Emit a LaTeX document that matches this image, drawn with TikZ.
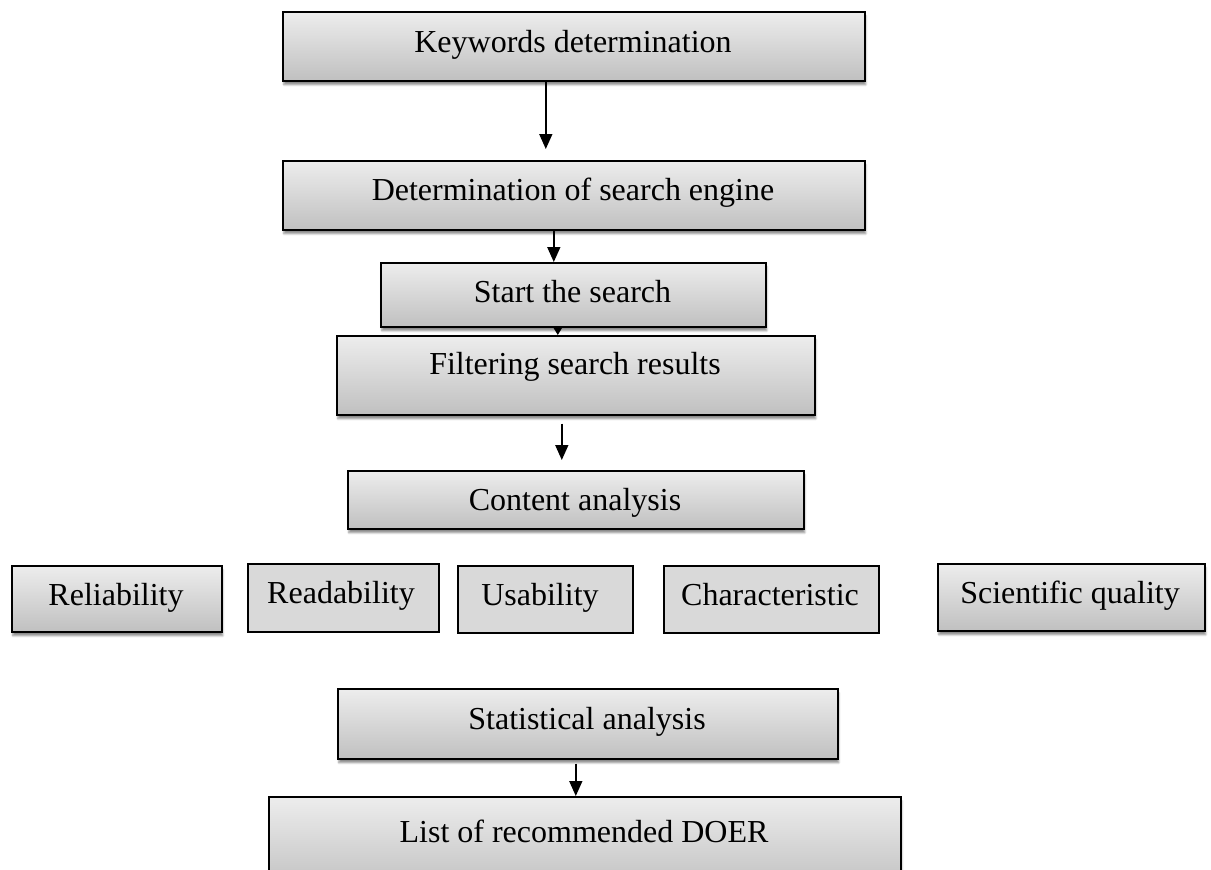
\documentclass[tikz,border=0pt]{standalone}
\usepackage{fontspec}
\setmainfont{Liberation Serif}
\usetikzlibrary{arrows.meta,shadows.blur}
\definecolor{boxtop}{HTML}{EDEDED}
\definecolor{boxbot}{HTML}{C0C0C0}
\definecolor{flatgray}{HTML}{D9D9D9}
\tikzset{
  shadedbox/.style={draw=black, line width=1.6pt, top color=boxtop, bottom color=boxbot,
    blur shadow={shadow xshift=1pt, shadow yshift=-4pt, shadow blur steps=6, shadow opacity=45},
    anchor=north west, inner sep=0pt},
  flatbox/.style={draw=black, line width=1.6pt, fill=flatgray, anchor=north west, inner sep=0pt},
  lbl/.style={anchor=base, inner sep=0pt, font=\fontsize{32}{38}\selectfont},
  flow/.style={line width=1.6pt, -{Triangle[width=13pt,length=15pt]}},
  smallflow/.style={line width=1.6pt, -{Triangle[width=8pt,length=7pt]}}
}
\begin{document}
\begin{tikzpicture}[x=1pt, y=-1pt]
\useasboundingbox (0,0) rectangle (1211,870);

% main chain of process boxes
\node[shadedbox, minimum width=582, minimum height=69] (kw) at (282,11) {};
\node[lbl] (kwt) at (573,52) {Keywords determination};

\node[shadedbox, minimum width=582, minimum height=69] (det) at (282,160) {};
\node[lbl] (dett) at (573,200) {Determination of search engine};

\node[shadedbox, minimum width=385, minimum height=64] (st) at (380,262) {};
\node[lbl] (stt) at (572.5,302) {Start the search};

\node[shadedbox, minimum width=478, minimum height=79] (flt) at (336,335) {};
\node[lbl] (fltt) at (575,374) {Filtering search results};

\node[shadedbox, minimum width=456, minimum height=58] (ca) at (347,470) {};
\node[lbl] (cat) at (575,510) {Content analysis};

% analysis criteria
\node[shadedbox, minimum width=210, minimum height=66] (rel) at (11,565) {};
\node[lbl] (relt) at (116,605) {Reliability};

\node[flatbox, minimum width=191, minimum height=68] (rea) at (247,563) {};
\node[lbl] (reat) at (341,603) {Readability};

\node[flatbox, minimum width=175, minimum height=67] (usa) at (457,565) {};
\node[lbl] (usat) at (540,605) {Usability};

\node[flatbox, minimum width=215, minimum height=67] (cha) at (663,565) {};
\node[lbl] (chat) at (770,605) {Characteristic};

\node[shadedbox, minimum width=267, minimum height=67] (sci) at (937,563) {};
\node[lbl] (scit) at (1070,603) {Scientific quality};

% final steps
\node[shadedbox, minimum width=500, minimum height=70] (sta) at (337,688) {};
\node[lbl] (stat) at (587,729) {Statistical analysis};

\node[shadedbox, minimum width=632, minimum height=94] (lst) at (268,796) {};
\node[lbl] (lstt) at (584,842) {List of recommended DOER};

% connectors
\draw[flow, shorten >=11pt] ([xshift=-28pt]kw.south) -- ([xshift=-28pt]det.north);
\draw[flow] ([xshift=-20pt]det.south) -- ([xshift=-19.5pt]st.north);
\draw[smallflow] ([xshift=-15.5pt]st.south) -- ([xshift=-18pt]flt.north);
\draw[flow, shorten <=8pt, shorten >=10pt] ([xshift=-14pt]flt.south) -- ([xshift=-14pt]ca.north);
\draw[flow, shorten <=4pt] ([xshift=-12pt]sta.south) -- ([xshift=-9pt]lst.north);
\end{tikzpicture}
\end{document}
